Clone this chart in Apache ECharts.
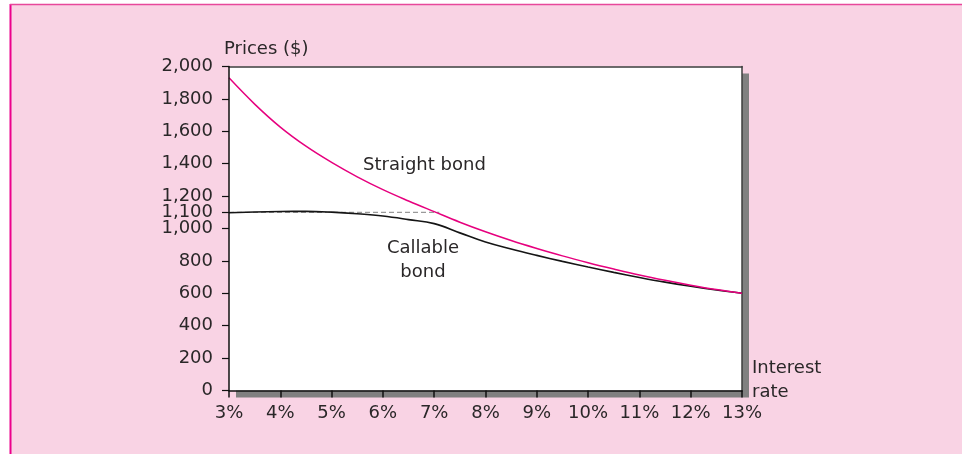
<!DOCTYPE html>
<html><head><meta charset="utf-8">
<script src="https://cdn.jsdelivr.net/npm/echarts@6/dist/echarts.min.js"></script>
<style>html,body{margin:0;padding:0;background:#fff}#c{width:962px;height:454px}</style>
</head><body><div id="c"></div>
<script>
// Interest rates (%)
const rates = [3,3.5,4,4.5,5,5.5,6,6.5,7,7.5,8,8.5,9,9.5,10,10.5,11,11.5,12,12.5,13];
// Straight bond price ($)
const straightBond = [1930,1768,1626,1508,1408,1319,1240,1170,1104,1039,980,926,877,831,789,750,713,680,650,623,600];
// Callable bond price ($)
const callableBond = [1097,1102,1105,1106,1101,1091,1077,1055,1030,973,916,873,834,797,762,729,698,669,643,620,600];
// Call price reference (dashed)
const callPrice = 1100;
const callPriceRange = [3, 7.1];
// Axis ticks
const yTickValues = [0,200,400,600,800,1000,1100,1200,1400,1600,1800,2000];
const xMin = 3, xMax = 13, xStep = 1;

const FONT = 'DejaVu Sans';
const TXT = '#2a2728';
const chart = echarts.init(document.getElementById('c'), null, {renderer:'canvas'});
const fmtNum = v => v.toLocaleString('en-US');
const frameAxis = {show: true, onZero: false, lineStyle: {color: '#3c3c3c', width: 1.5}};

chart.setOption({
  animation: false,
  backgroundColor: '#ffffff',
  grid: {
    left: 229, right: 220, top: 66.5, bottom: 63.5,
    show: true, backgroundColor: '#ffffff', borderWidth: 0,
    shadowColor: '#808080', shadowBlur: 0, shadowOffsetX: 7, shadowOffsetY: 7
  },
  xAxis: [{
    type: 'value', min: xMin, max: xMax, interval: xStep,
    axisLine: {show: true, onZero: false, lineStyle: {color: '#111', width: 1.5}},
    axisTick: {show: true, inside: false, length: 7, lineStyle: {color: '#111', width: 1.5}},
    axisLabel: {formatter: v => v + '%', margin: 14, fontFamily: FONT, fontSize: 18, color: TXT},
    splitLine: {show: false}, z: 5
  }, {
    type: 'value', position: 'top', min: xMin, max: xMax, interval: xStep,
    axisLine: frameAxis, axisTick: {show: false}, axisLabel: {show: false}, splitLine: {show: false}
  }],
  yAxis: [{
    type: 'value', min: 0, max: 2000, interval: 100,
    axisLine: {show: true, onZero: false, lineStyle: {color: '#111', width: 1.5}},
    axisTick: {show: true, inside: false, length: 7, customValues: yTickValues, lineStyle: {color: '#111', width: 1.2}},
    axisLabel: {customValues: yTickValues, formatter: v => fmtNum(v), margin: 16, fontFamily: FONT, fontSize: 18, color: TXT, lineHeight: 18},
    splitLine: {show: false}, z: 5
  }, {
    type: 'value', position: 'right', min: 0, max: 2000, interval: 100,
    axisLine: frameAxis, axisTick: {show: false}, axisLabel: {show: false}, splitLine: {show: false}
  }],
  graphic: [
    {type: 'rect', z: -10, shape: {x: 10, y: 4, width: 952, height: 450}, style: {fill: '#f9d3e4'}},
    {type: 'line', z: -9, shape: {x1: 10.5, y1: 4, x2: 10.5, y2: 454}, style: {stroke: '#ec008c', lineWidth: 2}},
    {type: 'line', z: -9, shape: {x1: 10, y1: 4.5, x2: 962, y2: 4.5}, style: {stroke: '#e8479b', lineWidth: 1.5}},
    {type: 'text', z: 100, x: 224, y: 49, style: {text: 'Prices ($)', font: '18px "DejaVu Sans"', fill: TXT, textAlign: 'left', textVerticalAlign: 'middle'}},
    {type: 'text', z: 100, x: 752, y: 380, style: {text: 'Interest\nrate', font: '18px "DejaVu Sans"', lineHeight: 24, fill: TXT, textAlign: 'left', textVerticalAlign: 'middle'}},
    {type: 'text', z: 100, x: 363, y: 165, style: {text: 'Straight bond', font: '18px "DejaVu Sans"', fill: TXT, textAlign: 'left', textVerticalAlign: 'middle'}},
    {type: 'text', z: 100, x: 423, y: 260, style: {text: 'Callable\nbond', font: '18px "DejaVu Sans"', lineHeight: 24, fill: TXT, textAlign: 'center', textVerticalAlign: 'middle'}}
  ],
  series: [
    {
      name: 'Call price', type: 'line', symbol: 'none', silent: true,
      data: callPriceRange.map(r => [r, callPrice]),
      lineStyle: {color: '#9a9a9a', width: 1.3, type: [5, 3]}, z: 1
    },
    {
      name: 'Straight bond', type: 'line', symbol: 'none', smooth: 0.4,
      data: rates.map((r, i) => [r, straightBond[i]]),
      lineStyle: {color: '#e6007e', width: 1.5}, z: 3
    },
    {
      name: 'Callable bond', type: 'line', symbol: 'none', smooth: 0.4,
      data: rates.map((r, i) => [r, callableBond[i]]),
      lineStyle: {color: '#151515', width: 1.6}, z: 2
    }
  ]
});
</script>
</body></html>
